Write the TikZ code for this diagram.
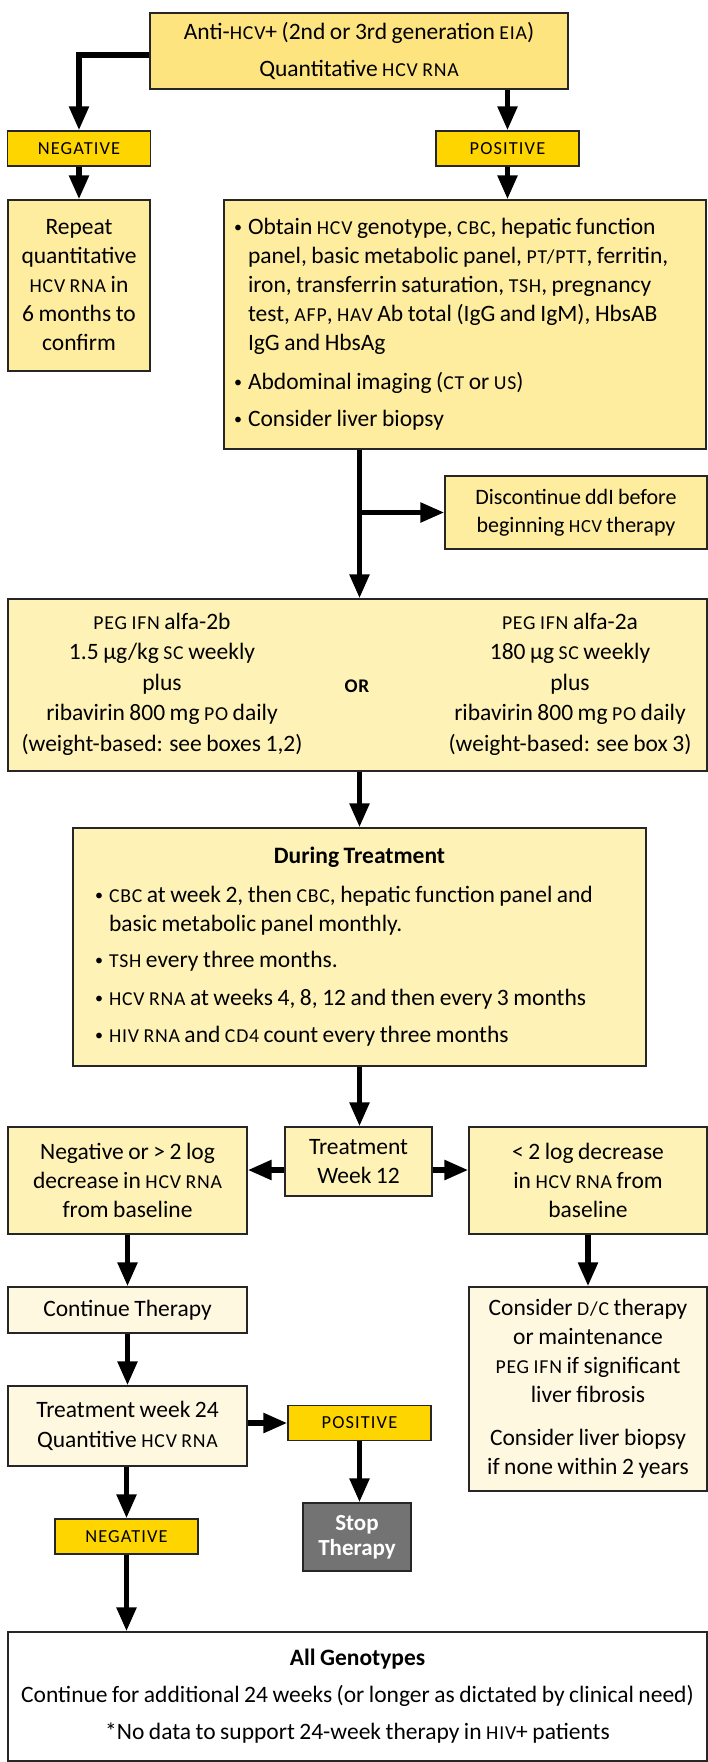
\documentclass[tikz,border=0pt]{standalone}
\usepackage{fontspec}
\setmainfont{Carlito}[WordSpace=0.85]
\newfontfamily\acfont[Scale=0.84,LetterSpace=4,WordSpace=0.85]{Carlito}
\newfontfamily\tagfont[Scale=0.8,LetterSpace=6]{Carlito}
\newcommand{\ac}[1]{{\acfont #1}}
\newcommand{\itm}{\makebox[14pt][l]{\raisebox{2pt}{\fontsize{16}{16}\selectfont\textbullet}}}
\usetikzlibrary{arrows.meta}
\definecolor{topyellow}{HTML}{FDE47E}
\definecolor{tagyellow}{HTML}{FFD500}
\definecolor{boxyellow}{HTML}{FEEC9F}
\definecolor{paleyellow}{HTML}{FEF2B6}
\definecolor{cream}{HTML}{FFF8E1}
\definecolor{stopgray}{HTML}{737373}

\begin{document}
\begin{tikzpicture}[x=1pt, y=-1pt,
  every node/.style={font=\fontsize{23.5}{29}\selectfont, align=center},
  box/.style={draw=black!85, line width=1.4pt, inner sep=0pt},
  tag/.style={box, fill=tagyellow, minimum width=143pt, minimum height=35pt, font=\tagfont\fontsize{23}{29}\selectfont},
  flow/.style={line width=5.5pt, -{Triangle[width=19pt,length=24pt]}}]

	\useasboundingbox (0,0) rectangle (707,1762);

	\node[box, fill=topyellow, minimum width=418pt, minimum height=76pt] (hcv) at (359,51) {Anti-\ac{HCV}+ (2nd or 3rd generation \ac{EIA})\\[8pt]Quantitative \ac{HCV RNA}};
	\node[tag] (neg) at (79,148.5) {NEGATIVE};
	\node[tag] (pos) at (507.5,148.5) {POSITIVE};
	\node[box, fill=boxyellow, minimum width=142pt, minimum height=171pt] (repeat) at (79,285.5) {Repeat\\quantitative\\\ac{HCV RNA} in\\6 months to\\confirm};
	\node[box, fill=boxyellow, minimum width=482pt, minimum height=249pt, align=left] (workup) at (465,324.5) {\makebox[462pt][l]{\itm Obtain \ac{HCV} genotype, \ac{CBC}, hepatic function}\\
		\hspace*{14pt}panel, basic metabolic panel, \ac{PT/PTT}, ferritin,\\
		\hspace*{14pt}iron, transferrin saturation, \ac{TSH}, pregnancy\\
		\hspace*{14pt}test, \ac{AFP}, \ac{HAV} Ab total (IgG and IgM), HbsAB\\
		\hspace*{14pt}IgG and HbsAg\\[10pt]
		\itm Abdominal imaging (\ac{CT} or \ac{US})\\[8pt]
		\itm Consider liver biopsy};
	\node[box, fill=boxyellow, minimum width=262pt, minimum height=73pt, font=\fontsize{22}{28}\selectfont] (ddi) at (576,512.5) {Discontinue ddI before\\beginning \ac{HCV} therapy};

	\node[box, fill=paleyellow, minimum width=699pt, minimum height=172pt] (peg) at (357.5,685) {};
	\node[font=\fontsize{23.5}{30.5}\selectfont] (pegb) at (162,684) {\ac{PEG IFN} alfa-2b\\1.5 µg/kg \ac{SC} weekly\\plus\\ribavirin 800 mg \ac{PO} daily\\(weight-based: see boxes 1,2)};
	\node[font=\fontsize{23.5}{30.5}\selectfont] (pega) at (570,684) {\ac{PEG IFN} alfa-2a\\180 µg \ac{SC} weekly\\plus\\ribavirin 800 mg \ac{PO} daily\\(weight-based: see box 3)};
	\node[font=\acfont\bfseries\fontsize{23}{29}\selectfont] (or) at (357,686) {OR};

	\node[box, fill=paleyellow, minimum width=573pt, minimum height=238pt, align=left] (during) at (359.5,947) {\makebox[529pt]{\bfseries During Treatment}\\[10pt]
		\itm \ac{CBC} at week 2, then \ac{CBC}, hepatic function panel and\\
		\hspace*{14pt}basic metabolic panel monthly.\\[7pt]
		\itm \ac{TSH} every three months.\\[9pt]
		\itm \ac{HCV RNA} at weeks 4, 8, 12 and then every 3 months\\[8pt]
		\itm \ac{HIV RNA} and \ac{CD4} count every three months};

	\node[box, fill=paleyellow, minimum width=147pt, minimum height=69pt] (wk12) at (358.5,1161.5) {Treatment\\Week 12};
	\node[box, fill=paleyellow, minimum width=239pt, minimum height=107pt] (resp) at (127.5,1180.5) {Negative or > 2 log\\decrease in \ac{HCV RNA}\\from baseline};
	\node[box, fill=paleyellow, minimum width=238pt, minimum height=107pt] (noresp) at (588,1180.5) {< 2 log decrease\\in \ac{HCV RNA} from\\baseline};
	\coordinate (wk12l) at ([yshift=-8.5pt]wk12.west);
	\coordinate (wk12r) at ([yshift=-8.5pt]wk12.east);

	\node[box, fill=cream, minimum width=239pt, minimum height=46pt] (cont) at (127.5,1310) {Continue Therapy};
	\node[box, fill=cream, minimum width=238pt, minimum height=204pt] (maint) at (588,1389) {Consider \ac{D/C} therapy\\or maintenance\\\ac{PEG IFN} if significant\\liver fibrosis\\[14pt]Consider liver biopsy\\if none within 2 years};
	\node[box, fill=cream, minimum width=239pt, minimum height=80pt, font=\fontsize{23.5}{30}\selectfont] (wk24) at (127.5,1426) {Treatment week 24\\Quantitive \ac{HCV RNA}};
	\node[tag] (pos24) at (359.5,1423) {POSITIVE};
	\node[box, fill=stopgray, text=white, minimum width=108pt, minimum height=68pt, font=\bfseries\fontsize{23}{25}\selectfont] (stop) at (357,1537) {Stop\\Therapy};
	\node[tag] (neg24) at (126.5,1536.5) {NEGATIVE};
	\node[box, fill=white, minimum width=699pt, minimum height=129pt] (allgeno) at (357.5,1696.5) {\textbf{All Genotypes}\\[8pt]Continue for additional 24 weeks (or longer as dictated by clinical need)\\[8pt]*No data to support 24-week therapy in \ac{HIV}+ patients};

	\draw[flow] ([yshift=-4pt]hcv.west) -| (neg.north);
	\draw[flow] (pos.north |- hcv.south) -- (pos.north);
	\draw[flow] (neg.south) -- (neg.south |- repeat.north);
	\draw[flow] (pos.south) -- (pos.south |- workup.north);
	\draw[flow] (during.north |- workup.south) -- (during.north |- peg.north);
	\draw[flow] (during.north |- ddi.west) -- (ddi.west);
	\draw[flow] (during.north |- peg.south) -- (during.north);
	\draw[flow] (during.south) -- (during.south |- wk12.north);
	\draw[flow] (wk12l) -- (wk12l -| resp.east);
	\draw[flow] (wk12r) -- (wk12r -| noresp.west);
	\draw[flow] (resp.south) -- (cont.north);
	\draw[flow] (cont.south) -- (wk24.north);
	\draw[flow] (wk24.south -| neg24.north) -- (neg24.north);
	\draw[flow] (neg24.south) -- (neg24.south |- allgeno.north);
	\draw[flow] (pos24.west -| wk24.east) -- (pos24.west);
	\draw[flow] (pos24.south) -- (pos24.south |- stop.north);
	\draw[flow] (noresp.south) -- (noresp.south |- maint.north);
\end{tikzpicture}
\end{document}
